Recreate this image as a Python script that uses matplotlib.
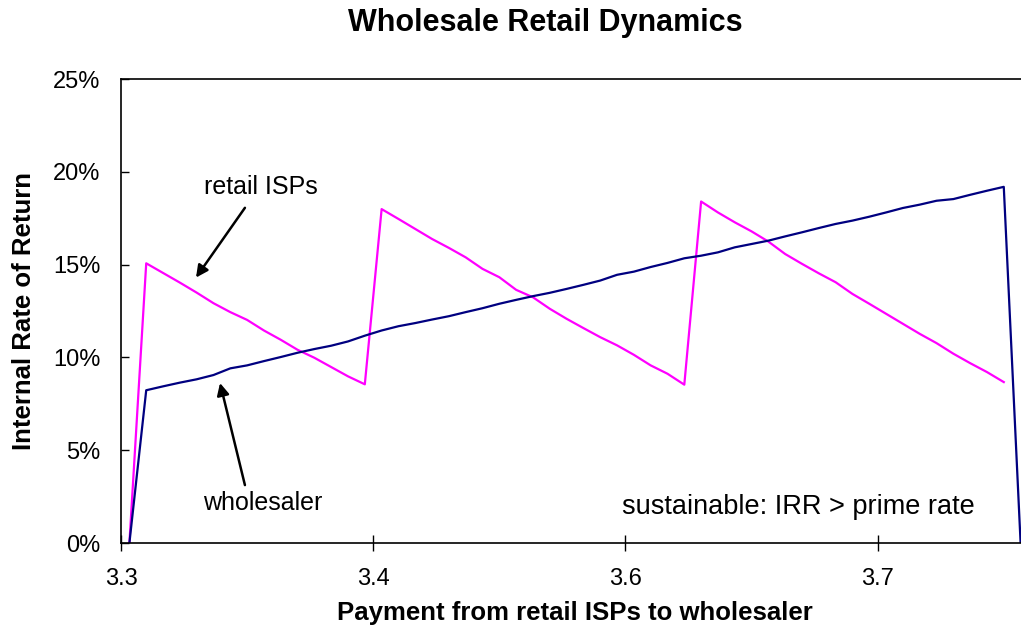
import numpy as np
import matplotlib.pyplot as plt

# IRR of the retail ISPs and of the wholesaler, one value per payment category (in %)
retail_isps = [
    0.0, 15.07, 14.55, 14.03, 13.49, 12.92, 12.44, 12.02, 11.45, 10.95,
    10.41, 9.98, 9.48, 8.98, 8.55,
    17.99, 17.46, 16.92, 16.38, 15.90, 15.39, 14.77, 14.32, 13.64, 13.24,
    12.62, 12.08, 11.58, 11.09, 10.65, 10.14, 9.57, 9.12, 8.53,
    18.40, 17.81, 17.28, 16.79, 16.24, 15.57, 15.04, 14.53, 14.05, 13.42,
    12.89, 12.35, 11.81, 11.27, 10.77, 10.20, 9.69, 9.21, 8.67,
]
wholesaler = [
    0.0, 8.23, 8.44, 8.64, 8.82, 9.05, 9.41, 9.57, 9.80, 10.02,
    10.25, 10.45, 10.63, 10.86, 11.17, 11.45, 11.68, 11.85, 12.04, 12.22,
    12.44, 12.65, 12.89, 13.10, 13.30, 13.48, 13.69, 13.91, 14.14, 14.45,
    14.62, 14.87, 15.09, 15.34, 15.48, 15.66, 15.93, 16.11, 16.29, 16.52,
    16.74, 16.97, 17.19, 17.37, 17.58, 17.81, 18.05, 18.23, 18.44, 18.53,
    18.76, 18.98, 19.19, 0.0,
]
n_categories = 54
tick_categories = [0, 15, 30, 45]
tick_labels = ["3.3", "3.4", "3.6", "3.7"]
y_ticks = [0, 5, 10, 15, 20, 25]

plt.rcParams["font.family"] = ["Liberation Sans", "DejaVu Sans"]

fig = plt.figure(figsize=(10.21, 6.26), dpi=100)
ax = fig.add_axes([121 / 1021, 83 / 626, 908 / 1021, 464 / 626])

x_r = np.arange(len(retail_isps)) + 0.5
x_w = np.arange(len(wholesaler)) + 0.5
ax.plot(x_r, retail_isps, color="#FF00FF", lw=1.6)
ax.plot(x_w, wholesaler, color="#000080", lw=1.6)

ax.set_xlim(0, n_categories)
ax.set_ylim(0, 25)
ax.set_xticks(tick_categories)
ax.set_xticklabels(tick_labels)
ax.set_yticks(y_ticks)
ax.set_yticklabels([f"{v}%" for v in y_ticks])
ax.tick_params(axis="x", direction="inout", length=12, width=1, labelsize=17, pad=12)
ax.tick_params(axis="y", direction="in", length=6, width=1, labelsize=17, pad=15)
for s in ax.spines.values():
    s.set_linewidth(1.2)

ax.set_xlabel("Payment from retail ISPs to wholesaler", fontsize=18.5, fontweight="bold", labelpad=8)
ax.set_ylabel("Internal Rate of Return", fontsize=18.5, fontweight="bold", labelpad=12)
fig.text(0.534, 0.964, "Wholesale Retail Dynamics", ha="center", va="center",
         fontsize=22, fontweight="bold")

# annotations
arrow = dict(arrowstyle="-|>", color="black", lw=1.8, mutation_scale=18, shrinkA=0, shrinkB=0)
ax.text(8.3, 19.2, "retail ISPs", fontsize=18, ha="center", va="center")
ax.annotate("", xy=(4.46, 14.30), xytext=(7.37, 18.06), arrowprops=arrow)
ax.text(8.4, 2.15, "wholesaler", fontsize=18, ha="center", va="center")
ax.annotate("", xy=(5.89, 8.62), xytext=(7.37, 3.12), arrowprops=arrow)
ax.text(40.3, 1.94, "sustainable: IRR > prime rate", fontsize=19.5, ha="center", va="center")

plt.savefig("out.png", dpi=100)
